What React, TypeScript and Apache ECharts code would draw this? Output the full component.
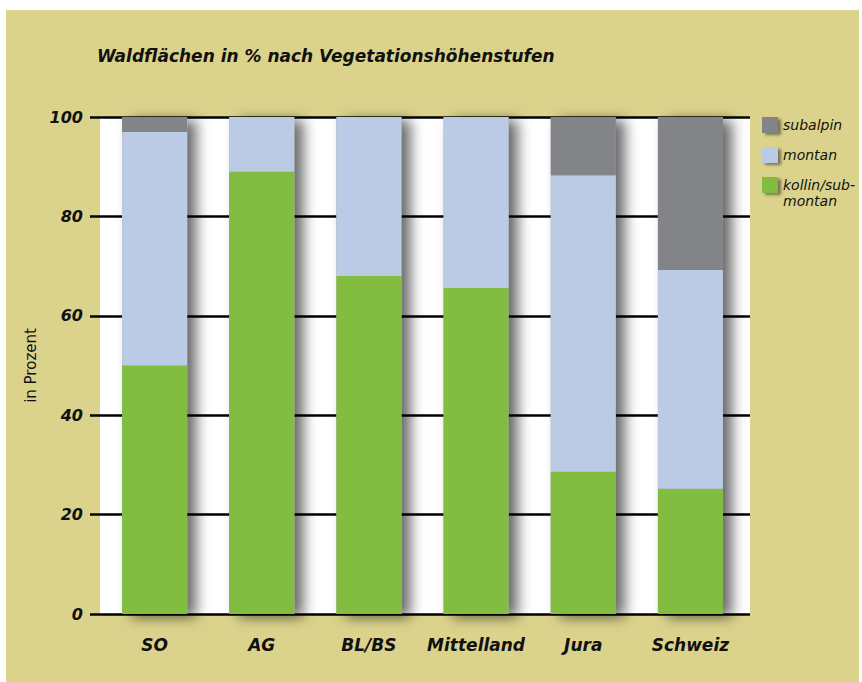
import React, { useEffect, useRef } from "react";
import * as echarts from "echarts";

const categories = ["SO", "AG", "BL/BS", "Mittelland", "Jura", "Schweiz"];
const kollin = [50, 89, 68, 65.6, 28.6, 25.2];
const montan = [47, 11, 32, 34.4, 59.7, 44];
const subalpin = [3, 0, 0, 0, 11.7, 30.8];
const seriesNames = ["subalpin", "montan", "kollin/sub-montan"];
const titleText = "Waldflächen in % nach Vegetationshöhenstufen";
const yName = "in Prozent";

const TAN = "#dbd38c";
const GREY = "#838488";
const BLUE = "#bccbe5";
const GREEN = "#82bd42";
const FONT = "DejaVu Sans";

export default function App() {
  const ref = useRef<HTMLDivElement>(null);
  useEffect(() => {
    if (!ref.current) return;
    const chart = echarts.init(ref.current, null, { renderer: "svg" });
    const totals = categories.map((_, i) => kollin[i] + montan[i] + subalpin[i]);
    const labelStyle = {
      fontFamily: FONT,
      fontWeight: "bold" as const,
      fontStyle: "italic" as const,
      fontSize: 16,
      color: "#111",
    };
    const legendText = {
      fontFamily: FONT,
      fontStyle: "italic" as const,
      fontSize: 14,
      color: "#111",
      lineHeight: 16,
    };
    const legendIcon = {
      shadowBlur: 3,
      shadowOffsetX: 3,
      shadowOffsetY: 2,
      shadowColor: "rgba(0,0,0,0.45)",
    };
    chart.setOption({
      animation: false,
      backgroundColor: "transparent",
      title: {
        text: titleText,
        left: 92,
        top: 42,
        textStyle: { ...labelStyle, fontSize: 17 },
      },
      graphic: [
        { type: "rect", z: -20, shape: { x: 6, y: 10, width: 853, height: 672 }, style: { fill: TAN }, silent: true },
        { type: "rect", z: -10, shape: { x: 100, y: 117, width: 650, height: 497 }, style: { fill: "#ffffff" }, silent: true },
      ],
      legend: [
        {
          orient: "vertical",
          left: 762,
          top: 117,
          padding: 0,
          itemWidth: 16,
          itemHeight: 16,
          itemGap: 14,
          icon: "rect",
          data: ["subalpin", "montan"],
          textStyle: legendText,
          itemStyle: legendIcon,
          selectedMode: false,
        },
        {
          orient: "vertical",
          left: 762,
          top: 161,
          padding: 0,
          itemWidth: 16,
          itemHeight: 16,
          icon: "rect",
          data: ["kollin/sub-montan"],
          formatter: () => "\nkollin/sub-\nmontan",
          textStyle: legendText,
          itemStyle: legendIcon,
          selectedMode: false,
        },
      ],
      grid: [
        { left: 90, right: 112, top: 117, bottom: 68 },
        { left: 101, right: 118, top: 117, bottom: 68 },
      ],
      xAxis: [
        { type: "category", gridIndex: 0, data: categories, show: false },
        {
          type: "category",
          gridIndex: 1,
          data: categories,
          axisLine: { show: false },
          axisTick: { show: false },
          axisLabel: { ...labelStyle, fontSize: 17, margin: 22, interval: 0 },
        },
      ],
      yAxis: [
        {
          type: "value",
          gridIndex: 0,
          min: 0,
          max: 100,
          interval: 20,
          axisLine: { show: false },
          axisTick: { show: false },
          axisLabel: { ...labelStyle, margin: 7 },
          splitLine: { lineStyle: { color: "#000", width: 2.5 } },
          name: yName,
          nameLocation: "middle",
          nameGap: 49,
          nameTextStyle: { fontFamily: FONT, fontSize: 15, color: "#111" },
        },
        { type: "value", gridIndex: 1, min: 0, max: 100, show: false },
      ],
      series: [
        {
          type: "bar",
          name: "shadow",
          xAxisIndex: 1,
          yAxisIndex: 1,
          data: totals,
          barWidth: 65,
          barGap: "-100%",
          silent: true,
          itemStyle: {
            color: "#999",
            shadowBlur: 14,
            shadowOffsetX: 9,
            shadowOffsetY: 3,
            shadowColor: "rgba(0,0,0,0.6)",
          },
        },
        {
          type: "bar",
          name: seriesNames[2],
          xAxisIndex: 1,
          yAxisIndex: 1,
          stack: "a",
          data: kollin,
          barWidth: 65,
          barGap: "-100%",
          itemStyle: { color: GREEN },
        },
        {
          type: "bar",
          name: seriesNames[1],
          xAxisIndex: 1,
          yAxisIndex: 1,
          stack: "a",
          data: montan,
          barWidth: 65,
          barGap: "-100%",
          itemStyle: { color: BLUE },
        },
        {
          type: "bar",
          name: seriesNames[0],
          xAxisIndex: 1,
          yAxisIndex: 1,
          stack: "a",
          data: subalpin,
          barWidth: 65,
          barGap: "-100%",
          itemStyle: { color: GREY },
        },
      ],
    });
    return () => chart.dispose();
  }, []);
  return (
    <div
      ref={ref}
      style={{ position: "fixed", left: 0, top: 0, width: 862, height: 682, background: "#fff" }}
    />
  );
}
